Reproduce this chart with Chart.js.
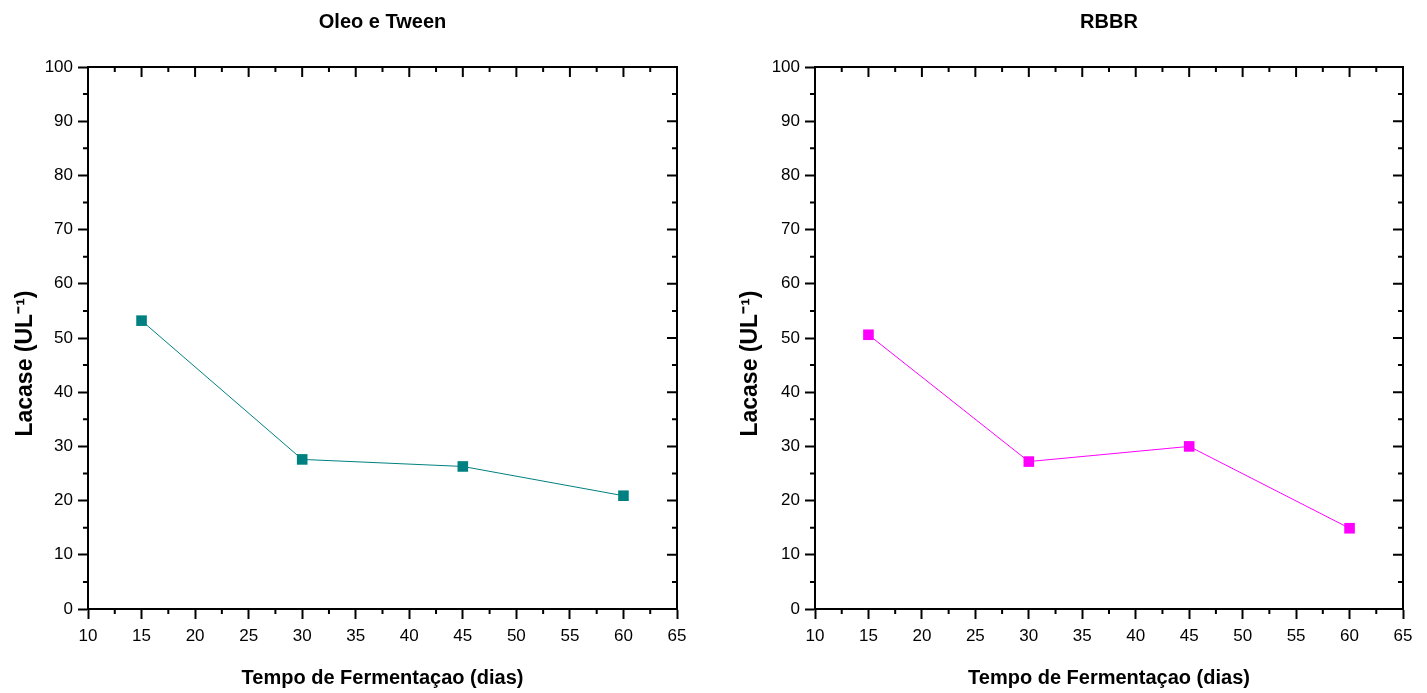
<!DOCTYPE html>
<html>
<head>
<meta charset="utf-8">
<script src="https://cdn.jsdelivr.net/npm/chart.js@4.4.1/dist/chart.umd.min.js"></script>
<style>
  body { margin: 0; background: #fff; }
  .box { position: absolute; top: 0; height: 693px; }
  #left { left: 0; width: 713px; }
  #right { left: 713px; width: 714px; }
</style>
</head>
<body>
<div class="box" id="left"><canvas id="chartOleo"></canvas></div>
<div class="box" id="right"><canvas id="chartRbbr"></canvas></div>
<script>
// Données
const dias = [15, 30, 45, 60];
const lacaseOleo = [53.2, 27.6, 26.3, 20.9];
const lacaseRbbr = [50.6, 27.2, 30.0, 14.9];
const xTicks = [10, 15, 20, 25, 30, 35, 40, 45, 50, 55, 60, 65];
const yTicks = [0, 10, 20, 30, 40, 50, 60, 70, 80, 90, 100];

const FONT = "'Liberation Sans', Arial, sans-serif";

// Titre centré sur la zone du graphique
const titleCenterPlugin = {
    id: 'titleCenter',
    afterLayout(chart) {
        const tb = chart.titleBlock;
        if (tb) {
            tb.left = chart.chartArea.left;
            tb.right = chart.chartArea.right;
        }
    }
};

// Cadre + ticks mineurs + ticks haut/droite
const framePlugin = {
    id: 'frame',
    afterDraw(chart) {
        const ctx = chart.ctx;
        const a = chart.chartArea;
        const xs = chart.scales.x;
        const ys = chart.scales.y;
        ctx.save();
        ctx.strokeStyle = '#000';
        ctx.lineWidth = 2;
        ctx.strokeRect(a.left, a.top, a.right - a.left, a.bottom - a.top);
        ctx.beginPath();
        xTicks.forEach((v, i) => {
            const px = xs.getPixelForValue(v);
            ctx.moveTo(px, a.top);
            ctx.lineTo(px, a.top + 10);
            if (i < xTicks.length - 1) {
                const pm = xs.getPixelForValue(v + 2.5);
                ctx.moveTo(pm, a.top);
                ctx.lineTo(pm, a.top + 5);
                ctx.moveTo(pm, a.bottom);
                ctx.lineTo(pm, a.bottom + 5);
            }
        });
        yTicks.forEach((v, i) => {
            const py = ys.getPixelForValue(v);
            ctx.moveTo(a.right, py);
            ctx.lineTo(a.right - 10, py);
            if (i < yTicks.length - 1) {
                const pm = ys.getPixelForValue(v + 5);
                ctx.moveTo(a.right, pm);
                ctx.lineTo(a.right - 5, pm);
                ctx.moveTo(a.left, pm);
                ctx.lineTo(a.left - 5, pm);
            }
        });
        ctx.stroke();
        ctx.restore();
    }
};

function makeChart(id, titre, valeurs, couleur, yWidth, yTitlePad, padRight) {
    const ctx = document.getElementById(id).getContext('2d');
    return new Chart(ctx, {
        type: 'line',
        data: {
            datasets: [{
                data: dias.map((d, i) => ({ x: d, y: valeurs[i] })),
                borderColor: couleur,
                backgroundColor: couleur,
                borderWidth: 1,
                pointStyle: 'rect',
                pointRadius: 7.5,
                pointBorderWidth: 0,
                pointBackgroundColor: couleur,
                tension: 0
            }]
        },
        options: {
            responsive: true,
            maintainAspectRatio: false,
            animation: false,
            layout: { padding: { left: 0, right: padRight, top: 0, bottom: 0 } },
            plugins: {
                legend: { display: false },
                tooltip: { enabled: false },
                title: {
                    display: true,
                    text: titre,
                    color: '#000',
                    font: { family: FONT, size: 20, weight: 'bold', lineHeight: 1.2 },
                    padding: { top: 10, bottom: 33 }
                }
            },
            scales: {
                x: {
                    type: 'linear',
                    min: 10,
                    max: 65,
                    afterFit(scale) { scale.height = 84; },
                    afterBuildTicks(scale) { scale.ticks = xTicks.map(v => ({ value: v })); },
                    ticks: { color: '#000', font: { family: FONT, size: 17 }, padding: 7, maxRotation: 0 },
                    grid: { drawOnChartArea: false, drawTicks: true, tickLength: 10, tickWidth: 2, tickColor: '#000' },
                    border: { display: true, color: '#000', width: 2 },
                    title: {
                        display: true,
                        text: 'Tempo de Fermentaçao (dias)',
                        color: '#000',
                        font: { family: FONT, size: 20, weight: 'bold', lineHeight: 1.2 },
                        padding: { top: 0, bottom: 3 }
                    }
                },
                y: {
                    type: 'linear',
                    min: 0,
                    max: 100,
                    afterFit(scale) { scale.width = yWidth; },
                    afterBuildTicks(scale) { scale.ticks = yTicks.map(v => ({ value: v })); },
                    ticks: { color: '#000', font: { family: FONT, size: 17 }, padding: 5 },
                    grid: { drawOnChartArea: false, drawTicks: true, tickLength: 10, tickWidth: 2, tickColor: '#000' },
                    border: { display: true, color: '#000', width: 2 },
                    title: {
                        display: true,
                        text: 'Lacase (UL⁻¹)        ',
                        color: '#000',
                        font: { family: FONT, size: 23, weight: 'bold', lineHeight: 1.2 },
                        padding: { top: yTitlePad, bottom: 0 }
                    }
                }
            }
        },
        plugins: [titleCenterPlugin, framePlugin]
    });
}

makeChart('chartOleo', 'Oleo e Tween', lacaseOleo, '#008080', 88, 12, 36);
makeChart('chartRbbr', 'RBBR', lacaseRbbr, '#FF00FF', 102, 24, 24);
</script>
</body>
</html>
